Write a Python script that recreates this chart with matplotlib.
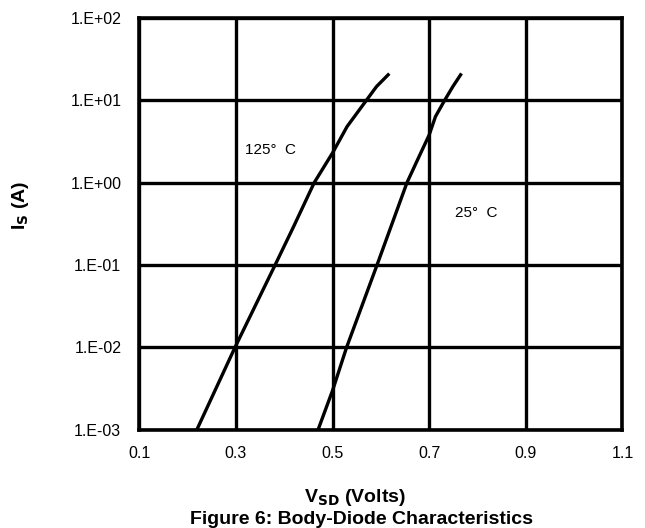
import matplotlib
matplotlib.use('Agg')
import matplotlib.pyplot as plt

plt.rcParams['font.family'] = ['Liberation Sans', 'DejaVu Sans']

# curvas (V em volts, I em amperes)
v_125 = [0.219, 0.298, 0.381, 0.419, 0.462, 0.500, 0.530, 0.570, 0.591, 0.615]
i_125 = [1e-3, 1e-2, 1e-1, 0.29, 1.0, 2.3, 4.8, 10.0, 14.7, 20.4]

v_25 = [0.470, 0.500, 0.529, 0.592, 0.654, 0.676, 0.700, 0.713, 0.732, 0.749, 0.765]
i_25 = [1e-3, 3.0e-3, 1e-2, 1e-1, 1.0, 1.9, 3.8, 6.35, 10.0, 14.7, 20.4]

x_ticks = [0.1, 0.3, 0.5, 0.7, 0.9, 1.1]
y_ticks = [1e-3, 1e-2, 1e-1, 1e0, 1e1, 1e2]
y_labels = ['1.E-03', '1.E-02', '1.E-01', '1.E+00', '1.E+01', '1.E+02']

fig = plt.figure(figsize=(6.45, 5.28), dpi=100)
ax = fig.add_axes([0.216, 0.186, 0.749, 0.780])

ax.plot(v_125, i_125, color='black', lw=2.4, solid_joinstyle='round')
ax.plot(v_25, i_25, color='black', lw=2.4, solid_joinstyle='round')

ax.set_yscale('log')
ax.set_xlim(0.1, 1.1)
ax.set_ylim(1e-3, 1e2)
ax.set_xticks(x_ticks)
ax.set_xticklabels(['%.1f' % x for x in x_ticks])
ax.set_yticks(y_ticks)
ax.set_yticklabels(y_labels)
ax.minorticks_off()
ax.tick_params(length=0, labelsize=11.5)
ax.tick_params(axis='x', pad=12)
ax.tick_params(axis='y', pad=13)

ax.grid(True, color='black', lw=2.4)
ax.set_axisbelow(True)
for s in ax.spines.values():
    s.set_linewidth(2.6)

ax.text(0.319, 2.5, '125°  C', fontsize=11, va='center')
ax.text(0.753, 0.43, '25°  C', fontsize=11, va='center')

fig.text(0.032, 0.612, 'I$_\\mathbf{S}$ (A)', rotation=90, ha='center', va='center',
         fontsize=14, fontweight='bold')
fig.text(0.551, 0.049, 'V$_\\mathbf{SD}$ (Volts)', ha='center', fontsize=14, fontweight='bold')
fig.text(0.560, 0.008, 'Figure 6: Body-Diode Characteristics', ha='center', fontsize=14,
         fontweight='bold')

fig.savefig('out.png', dpi=100)
